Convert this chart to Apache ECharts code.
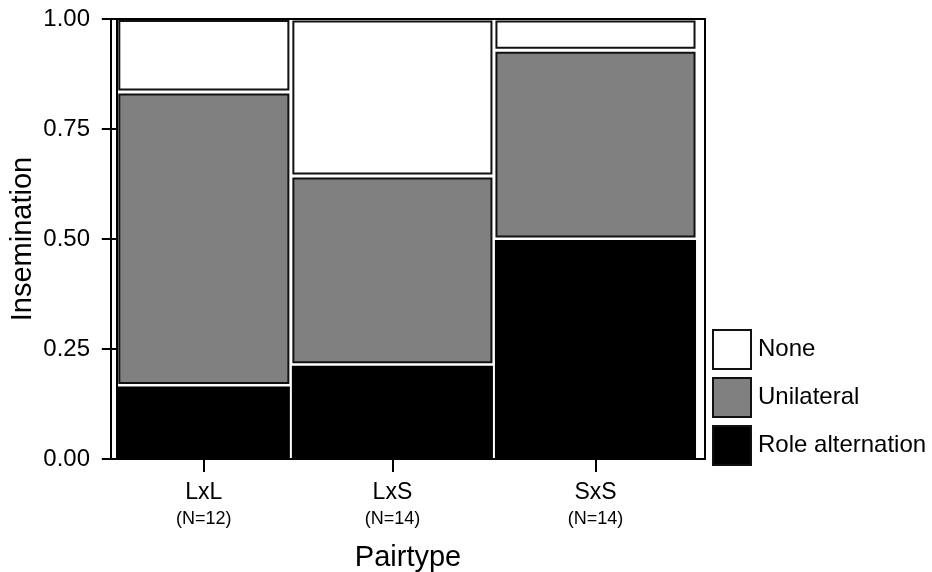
<!DOCTYPE html>
<html><head><meta charset="utf-8">
<script src="https://cdn.jsdelivr.net/npm/echarts@6/dist/echarts.min.js"></script>
<style>html,body{margin:0;padding:0;background:#fff}#c{width:932px;height:572px}</style>
</head><body><div id="c"></div>
<script>
const categories = ['LxL', 'LxS', 'SxS'];
const counts = [12, 14, 14];
const roleAlternation = [0.167, 0.214, 0.500];
const unilateral = [0.667, 0.429, 0.429];
const none = [0.167, 0.357, 0.071];
const levelNames = ['Role alternation', 'Unilateral', 'None'];
const levelColors = ['#000000', '#808080', '#ffffff'];

const total = counts.reduce((a, b) => a + b, 0);
const starts = [];
let acc = 0;
counts.forEach(n => { starts.push(acc); acc += n; });
const mids = counts.map((n, i) => starts[i] + n / 2);

const levels = [roleAlternation, unilateral, none];
function seriesData(li) {
  return categories.map((c, i) => {
    let y0 = 0;
    for (let k = 0; k < li; k++) y0 += levels[k][i];
    return [starts[i], starts[i] + counts[i], y0, y0 + levels[li][i]];
  });
}

function makeRender(li) {
  return function (params, api) {
    const p0 = api.coord([api.value(0), api.value(2)]);
    const p1 = api.coord([api.value(1), api.value(3)]);
    const black = li === 0;
    const inset = black ? 1 : 2.5;
    const x = Math.min(p0[0], p1[0]) + inset;
    const y = Math.min(p0[1], p1[1]) + inset;
    const w = Math.abs(p1[0] - p0[0]) - 2 * inset;
    const h = Math.abs(p1[1] - p0[1]) - 2 * inset;
    return {
      type: 'rect',
      shape: { x: x, y: y, width: w, height: h },
      style: black ? { fill: levelColors[li] } : { fill: levelColors[li], stroke: '#111', lineWidth: 2 }
    };
  };
}

const font = 'Liberation Sans, Arial, sans-serif';
const chart = echarts.init(document.getElementById('c'));
chart.setOption({
  animation: false,
  grid: { left: 111, right: 227, top: 19, bottom: 113, outerBoundsMode: 'none', containLabel: false, show: true, borderColor: '#000', borderWidth: 2, backgroundColor: 'transparent' },
  legend: {
    orient: 'vertical', left: 712, top: 329, padding: 0, itemWidth: 38, itemHeight: 39, itemGap: 7,
    data: ['None', 'Unilateral', 'Role alternation'],
    textStyle: { fontFamily: font, fontSize: 24, color: '#000', padding: [0, 0, 0, 2] },
    icon: 'rect', selectedMode: false
  },
  xAxis: {
    type: 'value', min: -0.4, max: total + 0.55,
    name: 'Pairtype', nameLocation: 'middle', nameGap: 84, nameMoveOverlap: false,
    nameTextStyle: { fontFamily: font, fontSize: 29, color: '#000' },
    axisLine: { show: true, lineStyle: { color: '#000', width: 2 } },
    axisTick: { show: true, inside: false, customValues: mids, length: 13, lineStyle: { color: '#000', width: 2 } },
    axisLabel: {
      customValues: mids, margin: 19,
      formatter: function (v) {
        const i = mids.findIndex(m => Math.abs(m - v) < 1e-6);
        if (i < 0) return '';
        return '{a|' + categories[i] + '}\n{b|(N=' + counts[i] + ')}';
      },
      rich: {
        a: { fontFamily: font, fontSize: 23, color: '#000', lineHeight: 29 },
        b: { fontFamily: font, fontSize: 18, color: '#000', lineHeight: 24 }
      }
    },
    splitLine: { show: false }
  },
  yAxis: {
    type: 'value', min: 0, max: 1, interval: 0.25,
    name: 'Insemination', nameLocation: 'middle', nameGap: 74, nameMoveOverlap: false,
    nameTextStyle: { fontFamily: font, fontSize: 29, color: '#000' },
    axisLine: { show: true, lineStyle: { color: '#000', width: 2 } },
    axisTick: { show: true, inside: false, length: 15, lineStyle: { color: '#000', width: 2 } },
    axisLabel: { fontFamily: font, fontSize: 24, color: '#000', margin: 21, formatter: v => v.toFixed(2) },
    splitLine: { show: false }
  },
  series: [0, 1, 2].map(li => ({
    name: levelNames[li],
    type: 'custom',
    renderItem: makeRender(li),
    encode: { x: [0, 1], y: [2, 3] },
    itemStyle: { color: levelColors[li], borderColor: '#111', borderWidth: 2 },
    data: seriesData(li)
  }))
});
</script></body></html>
